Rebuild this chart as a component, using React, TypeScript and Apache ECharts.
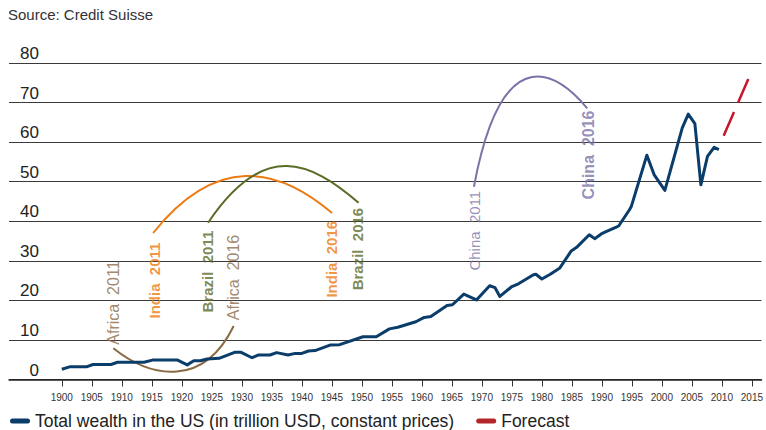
import React, { useEffect, useRef } from "react";
import * as echarts from "echarts";

// Total wealth in the US (trillion USD, constant prices)
const usYears = [
  1900, 1901.3, 1904.1, 1905.2, 1908.2, 1909.3, 1913.7, 1915.1, 1919.3, 1920.9,
  1922, 1923.1, 1924.2, 1926.2, 1928.9, 1929.8, 1931.7, 1932.8, 1934.7, 1935.8,
  1937.7, 1938.9, 1940, 1941.1, 1942.2, 1944.7, 1946.3, 1950.2, 1952.4, 1954.6,
  1956, 1959, 1960.4, 1961.5, 1964.2, 1965.1, 1967, 1969.1, 1971.3, 1972.2,
  1973, 1975, 1976.1, 1978.6, 1979, 1980, 1981.4, 1983, 1984.9, 1985.8,
  1987.9, 1988.8, 1989.9, 1990.7, 1992.4, 1992.8, 1994.6, 1994.9, 1997.5, 1998.7,
  2000.5, 2003.4, 2004.4, 2005.5, 2006.5, 2007.6, 2008.7, 2009.5,
];
const usValues = [
  2.6, 3.2, 3.2, 3.8, 3.8, 4.35, 4.35, 4.9, 4.9, 3.7,
  4.75, 4.75, 5.2, 5.35, 6.9, 6.9, 5.5, 6.2, 6.2, 6.8,
  6.2, 6.6, 6.6, 7.2, 7.3, 8.7, 8.8, 10.8, 10.8, 12.8,
  13.2, 14.6, 15.7, 15.9, 18.7, 18.9, 21.6, 20.1, 23.7, 23.2,
  21.0, 23.5, 24.2, 26.5, 26.6, 25.4, 26.6, 28.2, 32.5, 33.4,
  36.6, 35.6, 36.8, 37.4, 38.5, 38.8, 42.9, 43.7, 56.7, 51.8,
  47.8, 63.6, 67.1, 64.7, 49.2, 56.4, 58.7, 58.1,
];

// Forecast
const forecastYears = [2010.3, 2014.5];
const forecastValues = [61.6, 76.3];

// Annotation arcs: 2011 position -> 2016 position, as cubic curves
// [startYear, startValue, ctrl1Year, ctrl1Value, ctrl2Year, ctrl2Value, endYear, endValue]
const arcNames = ["Africa", "India", "Brazil", "China"];
const arcAfrica = [1908.59, 7.88, 1915.02, 0.12, 1923.7, -1.93, 1928.64, 13.52];
const arcIndia = [1915.22, 37.03, 1925.64, 56.9, 1935.94, 53.89, 1945.04, 42.08];
const arcBrazil = [1924.38, 39.63, 1933.66, 60.71, 1941.51, 55.05, 1949.46, 44.69];
const arcChina = [1968.68, 48.73, 1973.6, 88.52, 1983.3, 76.28, 1987.56, 68.55];

// Annotation labels (anchor point in data space)
const noteTexts = [
  "Africa  2011", "Africa  2016", "India  2011", "India  2016",
  "Brazil  2011", "Brazil  2016", "China  2011", "China  2016",
];
const noteYears = [1908.6, 1928.6, 1915.4, 1944.9, 1924.3, 1949.3, 1968.7, 1987.7];
const noteValues = [8.8, 15.0, 34.6, 40.1, 37.6, 43.4, 47.7, 68.0];

const tickYears = [
  1900, 1905, 1910, 1915, 1920, 1925, 1930, 1935, 1940, 1945, 1950, 1955,
  1960, 1965, 1970, 1975, 1980, 1985, 1990, 1995, 2000, 2005, 2010, 2015,
];

const US_NAME = "Total wealth in the US (in trillion USD, constant prices)";
const FC_NAME = "Forecast";

const FONT = "'Liberation Sans', Arial, Helvetica, sans-serif";
const C_US = "#0b3d6b";
const C_FC = "#c8142c";
const C_AFRICA = "#8a6a44";
const C_INDIA = "#ee7a12";
const C_BRAZIL = "#5a6b27";
const C_CHINA = "#7b73a8";

const arcColors = [C_AFRICA, C_INDIA, C_BRAZIL, C_CHINA];
const noteColors = [C_AFRICA, C_AFRICA, C_INDIA, C_INDIA, C_BRAZIL, C_BRAZIL, C_CHINA, C_CHINA];
const noteBold = [false, false, true, true, true, true, false, true];
const noteSizes = [16, 16, 15, 15, 15, 15, 15, 16];
const noteUp = [true, true, false, false, false, false, false, false];

const zip = (xs: number[], ys: number[]) => xs.map((x, i) => [x, ys[i]]);
const capsule = "path://M2.5,0 L17.5,0 A2.5,2.5 0 0 1 17.5,5 L2.5,5 A2.5,2.5 0 0 1 2.5,0 Z";

export default function App() {
  const ref = useRef<HTMLDivElement>(null);

  useEffect(() => {
    if (!ref.current) return;
    const chart = echarts.init(ref.current, null, { renderer: "svg" });

    chart.setOption({
      animation: false,
      title: {
        text: "Source: Credit Suisse",
        left: 8,
        top: 7,
        padding: 0,
        textStyle: { fontFamily: FONT, fontSize: 15, fontWeight: "normal", color: "#333" },
      },
      grid: { left: 9, right: 0, top: 63, bottom: 50.5, containLabel: false },
      legend: {
        left: 10,
        top: 412,
        padding: 0,
        itemWidth: 20,
        itemHeight: 5,
        itemGap: 22,
        textStyle: { fontFamily: FONT, fontSize: 17.5, color: "#222" },
        data: [
          { name: US_NAME, icon: capsule },
          { name: FC_NAME, icon: capsule },
        ],
      },
      xAxis: {
        type: "value",
        min: 1891.2,
        max: 2016.6,
        splitLine: { show: false },
        axisLine: { show: true, lineStyle: { color: "#222", width: 1.5 } },
        axisTick: {
          show: true,
          length: 7,
          customValues: tickYears,
          lineStyle: { color: "#333", width: 1 },
        },
        axisLabel: {
          customValues: tickYears,
          formatter: (v: number) => String(v),
          margin: 13,
          fontFamily: FONT,
          fontSize: 10,
          color: "#333",
        },
      },
      yAxis: {
        type: "value",
        min: 0,
        max: 80,
        interval: 10,
        axisLine: { show: false },
        axisTick: { show: false },
        splitLine: { show: true, lineStyle: { color: "#3a3a3a", width: 1 } },
        axisLabel: {
          inside: true,
          margin: 30,
          align: "right",
          verticalAlign: "bottom",
          padding: [0, 0, 1, 0],
          fontFamily: FONT,
          fontSize: 17,
          color: "#222",
        },
      },
      series: [
        {
          type: "custom",
          name: "arcs",
          silent: true,
          z: 3,
          data: [arcAfrica, arcIndia, arcBrazil, arcChina].map((a, i) => ({
            name: arcNames[i],
            value: a,
          })),
          renderItem: (params: any, api: any) => {
            const p0 = api.coord([api.value(0), api.value(1)]);
            const p1 = api.coord([api.value(2), api.value(3)]);
            const p2 = api.coord([api.value(4), api.value(5)]);
            const p3 = api.coord([api.value(6), api.value(7)]);
            return {
              type: "bezierCurve",
              shape: {
                x1: p0[0], y1: p0[1],
                cpx1: p1[0], cpy1: p1[1],
                cpx2: p2[0], cpy2: p2[1],
                x2: p3[0], y2: p3[1],
              },
              style: { stroke: arcColors[params.dataIndex], fill: "none", lineWidth: 2 },
            };
          },
        },
        {
          type: "line",
          name: US_NAME,
          data: zip(usYears, usValues),
          showSymbol: false,
          lineStyle: { color: C_US, width: 3, join: "round" },
          itemStyle: { color: C_US },
          z: 5,
        },
        {
          type: "line",
          name: FC_NAME,
          data: zip(forecastYears, forecastValues),
          showSymbol: false,
          lineStyle: { color: C_FC, width: 2.5, type: [26, 10] },
          itemStyle: { color: "#b5262a" },
          z: 5,
        },
        {
          type: "scatter",
          name: "notes",
          silent: true,
          symbolSize: 1,
          itemStyle: { color: "rgba(0,0,0,0)" },
          z: 6,
          data: noteTexts.map((t, i) => ({
            name: t,
            value: [noteYears[i], noteValues[i]],
            label: {
              show: true,
              position: "inside",
              formatter: t,
              rotate: 90,
              align: noteUp[i] ? "left" : "right",
              verticalAlign: "middle",
              fontFamily: FONT,
              fontSize: noteSizes[i],
              fontWeight: noteBold[i] ? "bold" : "normal",
              color: noteColors[i],
            },
          })),
        },
      ],
    });

    return () => chart.dispose();
  }, []);

  return (
    <div
      ref={ref}
      style={{ position: "fixed", left: 0, top: 0, width: 766, height: 430, background: "#fff" }}
    />
  );
}
